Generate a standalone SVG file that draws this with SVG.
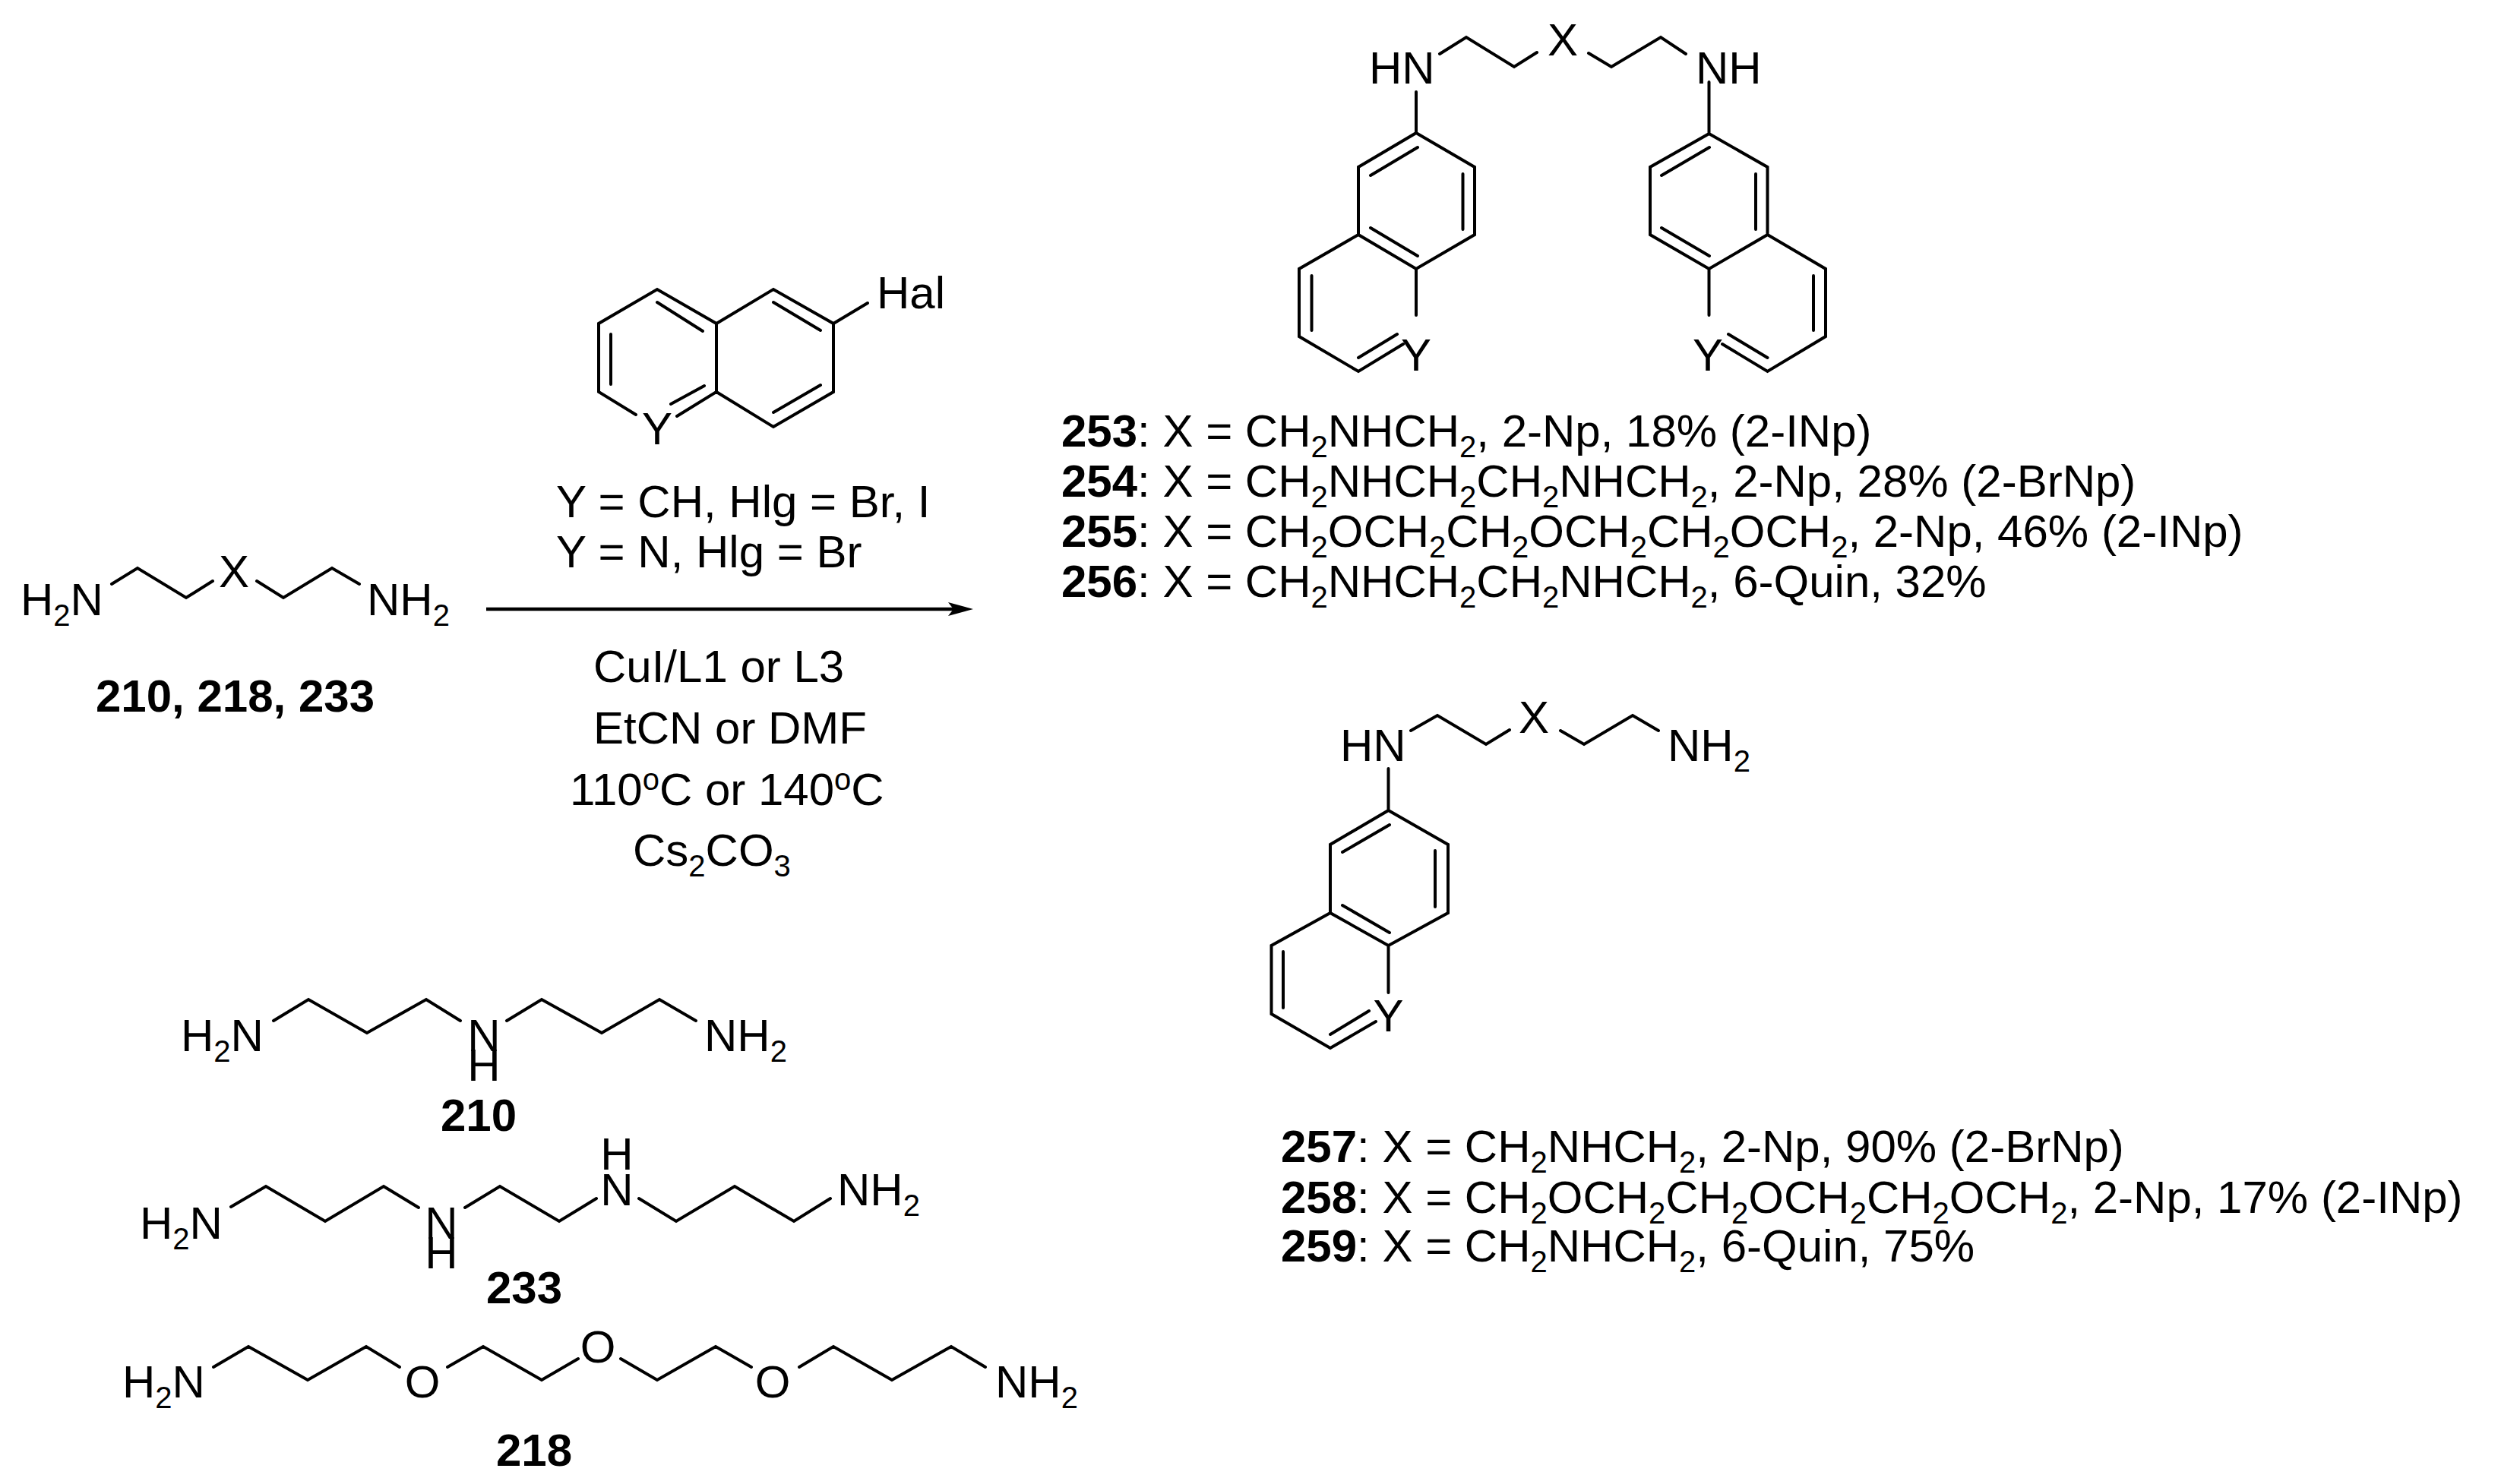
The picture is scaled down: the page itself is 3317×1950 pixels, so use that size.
<svg xmlns="http://www.w3.org/2000/svg" width="3317" height="1950" viewBox="0 0 3317 1950">
<style>
text{font-family:"Liberation Sans",Arial,sans-serif;font-size:60px;fill:#000}
.b{fill:none;stroke:#000;stroke-width:4;stroke-linecap:round;stroke-linejoin:miter}
.n{font-weight:bold}
.s{font-size:40px;baseline-shift:-14px}
.u{font-size:40px;baseline-shift:20px}
.m{text-anchor:middle}
</style>
<defs>
<marker id="ah" markerUnits="userSpaceOnUse" markerWidth="34" markerHeight="20" refX="7" refY="10" orient="auto"><path d="M0 1L33 10L0 19L7 10z" fill="#000"/></marker>
</defs>
<rect width="3317" height="1950" fill="#fff"/>
<g id="connectors">
<path d="M640 802H1255" fill="none" stroke="#000" stroke-width="4.5" marker-end="url(#ah)"/>
</g>
<g id="product-bis">
<path class="b" d="M1864 121V175L1788 220V309L1864 354L1941 309V220L1864 175M1788 309L1710 354V443L1788 489L1847 453M1864 354V415M1804 231L1866 194M1925.500 229V302M1804 300L1866 337M1726.500 363V435M1788 471L1839 440"/>
<path class="b" d="M1895 71L1930 49L1993 88L2023 69M2091 70L2121 88L2186 49L2219 71"/>
<path class="b" d="M2249.500 108V176L2172 220V309L2249.500 354L2326.500 309V220L2249.500 176M2326.500 309L2403 354V443L2326.500 489L2267 453M2249.500 354V415M2187 231L2250 194M2311 229V302M2187 300L2250 337M2387 363V435M2326.500 471L2275 440"/>
<text x="1802" y="110">HN</text>
<text class="m" x="2057" y="73">X</text>
<text x="2232" y="110">NH</text>
<text class="m" x="1864" y="488">Y</text>
<text class="m" x="2248" y="488">Y</text>
</g>
<g id="aryl-halide">
<path class="b" d="M837 546L788 516V426L865 381L943 426V516L891 548M865 398L925 436M804 440V506M927 508L883 532M943 426L1018 381L1097 426V516L1018 562L943 516M1018 398L1080 435M1080 507L1018 543M1097 426L1142 399"/>
<text x="1154" y="406">Hal</text>
<text class="m" x="865" y="585">Y</text>
<text x="732" y="681">Y = CH, Hlg = Br, I</text>
<text x="732" y="747">Y = N, Hlg = Br</text>
</g>
<g id="diamine">
<path class="b" d="M147 769L181 748L245 787L280 765M338 765L373 787L437 748L473 769"/>
<text x="27" y="810">H<tspan class="s">2</tspan>N</text>
<text class="m" x="308" y="773">X</text>
<text x="483" y="810">NH<tspan class="s">2</tspan></text>
<text x="126" y="937" class="n">210, 218, 233</text>
</g>
<g id="conditions">
<text x="781" y="898">CuI/L1 or L3</text>
<text x="781" y="979">EtCN or DMF</text>
<text x="750" y="1060">110<tspan class="u">o</tspan>C or 140<tspan class="u">o</tspan>C</text>
<text x="833" y="1140">Cs<tspan class="s">2</tspan>CO<tspan class="s">3</tspan></text>
</g>
<g id="compound-210">
<path class="b" d="M360 1344L406 1316L483 1360L561 1316L606 1344M667 1344L713 1316L792 1360L868 1316L916 1344"/>
<text x="238" y="1384">H<tspan class="s">2</tspan>N</text>
<text class="m" x="637" y="1384">N</text>
<text class="m" x="637" y="1423">H</text>
<text x="927" y="1384">NH<tspan class="s">2</tspan></text>
<text class="n m" x="630" y="1489">210</text>
</g>
<g id="compound-233">
<path class="b" d="M304 1589L350 1562L428 1608L505 1562L551 1590M612 1590L658 1562L736 1608L785 1578M841 1578L890 1608L967 1562L1045 1608L1093 1578"/>
<text x="184" y="1631">H<tspan class="s">2</tspan>N</text>
<text class="m" x="581" y="1631">N</text>
<text class="m" x="581" y="1670">H</text>
<text class="m" x="812" y="1540">H</text>
<text class="m" x="812" y="1587">N</text>
<text x="1102" y="1587">NH<tspan class="s">2</tspan></text>
<text class="n m" x="690" y="1716">233</text>
</g>
<g id="compound-218">
<path class="b" d="M281 1800L327 1773L405 1817L482 1773L526 1800M589 1800L636 1773L713 1817L761 1789M817 1789L865 1817L942 1773L989 1800M1052 1800L1097 1773L1174 1817L1252 1773L1297 1800"/>
<text x="161" y="1840">H<tspan class="s">2</tspan>N</text>
<text class="m" x="556" y="1840">O</text>
<text class="m" x="787" y="1794">O</text>
<text class="m" x="1017" y="1840">O</text>
<text x="1310" y="1840">NH<tspan class="s">2</tspan></text>
<text class="n m" x="703" y="1930">218</text>
</g>
<g id="labels-253-256">
<text x="1397" y="588"><tspan class="n">253</tspan>: X = CH<tspan class="s">2</tspan>NHCH<tspan class="s">2</tspan>, 2-Np, 18% (2-INp)</text>
<text x="1397" y="654"><tspan class="n">254</tspan>: X = CH<tspan class="s">2</tspan>NHCH<tspan class="s">2</tspan>CH<tspan class="s">2</tspan>NHCH<tspan class="s">2</tspan>, 2-Np, 28% (2-BrNp)</text>
<text x="1397" y="720"><tspan class="n">255</tspan>: X = CH<tspan class="s">2</tspan>OCH<tspan class="s">2</tspan>CH<tspan class="s">2</tspan>OCH<tspan class="s">2</tspan>CH<tspan class="s">2</tspan>OCH<tspan class="s">2</tspan>, 2-Np, 46% (2-INp)</text>
<text x="1397" y="786"><tspan class="n">256</tspan>: X = CH<tspan class="s">2</tspan>NHCH<tspan class="s">2</tspan>CH<tspan class="s">2</tspan>NHCH<tspan class="s">2</tspan>, 6-Quin, 32%</text>
</g>
<g id="product-mono">
<path class="b" d="M1827.500 1012V1067L1751 1112V1202L1827.500 1245L1906 1202V1112L1827.500 1067M1751 1202L1673.500 1245V1335L1751 1380L1811 1345M1827.500 1245V1307M1767 1122L1829 1086M1889 1120V1194M1767 1192L1829 1228M1689 1253V1327M1751 1362L1802 1331"/>
<path class="b" d="M1857 962L1892 942L1956 980L1987 961M2054 962L2085 980L2149 942L2183 962"/>
<text x="1764" y="1002">HN</text>
<text class="m" x="2019" y="965">X</text>
<text x="2195" y="1002">NH<tspan class="s">2</tspan></text>
<text class="m" x="1827.500" y="1358">Y</text>
</g>
<g id="labels-257-259">
<text x="1686" y="1530"><tspan class="n">257</tspan>: X = CH<tspan class="s">2</tspan>NHCH<tspan class="s">2</tspan>, 2-Np, 90% (2-BrNp)</text>
<text x="1686" y="1597"><tspan class="n">258</tspan>: X = CH<tspan class="s">2</tspan>OCH<tspan class="s">2</tspan>CH<tspan class="s">2</tspan>OCH<tspan class="s">2</tspan>CH<tspan class="s">2</tspan>OCH<tspan class="s">2</tspan>, 2-Np, 17% (2-INp)</text>
<text x="1686" y="1661"><tspan class="n">259</tspan>: X = CH<tspan class="s">2</tspan>NHCH<tspan class="s">2</tspan>, 6-Quin, 75%</text>
</g>
</svg>
